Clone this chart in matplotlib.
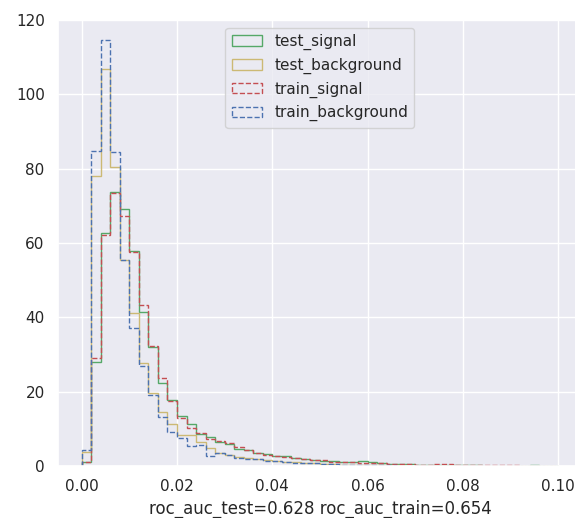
import numpy as np
import matplotlib
matplotlib.use("Agg")
import matplotlib.pyplot as plt
import seaborn as sns

sns.set_theme(style="darkgrid")

# 50 equal bins over [0, 0.1], heights are normalised densities
bin_edges = np.linspace(0.0, 0.1, 51)

test_signal = [1.0, 27.9, 62.6, 73.8, 69.1, 57.9, 41.3, 32.1, 22.4, 17.8,
               13.5, 11.3, 8.6, 7.9, 6.4, 6.0, 4.6, 4.2, 3.5, 3.2,
               2.8, 2.6, 2.2, 1.8, 1.6, 1.4, 1.3, 1.2, 1.0, 1.3,
               1.0, 0.8, 0.6, 0.6, 0.5, 0.4, 0.4, 0.3, 0.3, 0.2,
               0.2, 0.2, 0.1, 0.1, 0.1, 0.1, 0.0, 0.2, 0.0, 0.0]
test_background = [3.7, 78.0, 106.8, 80.5, 55.5, 41.1, 27.6, 19.6, 14.4, 11.3,
                   8.3, 8.3, 6.4, 4.8, 3.4, 3.0, 2.4, 2.1, 1.8, 1.6,
                   1.3, 1.1, 1.0, 0.9, 0.8, 0.6, 0.5, 0.4, 0.4, 0.3,
                   0.3, 0.2, 0.2, 0.2, 0.1, 0.1, 0.1, 0.1, 0.1, 0.1,
                   0.0, 0.0, 0.0, 0.0, 0.0, 0.0, 0.0, 0.0, 0.0, 0.0]
train_signal = [1.2, 29.1, 62.1, 73.5, 67.3, 57.5, 43.3, 32.3, 23.8, 17.6,
                12.8, 10.1, 9.0, 7.2, 6.6, 6.2, 5.2, 4.3, 3.6, 3.0,
                2.8, 2.4, 2.1, 1.9, 1.6, 1.5, 1.2, 1.1, 1.0, 0.9,
                0.8, 0.7, 0.6, 0.6, 0.5, 0.4, 0.4, 0.5, 0.5, 0.3,
                0.3, 0.2, 0.2, 0.2, 0.2, 0.2, 0.1, 0.0, 0.0, 0.0]
train_background = [4.2, 84.8, 114.6, 84.6, 55.4, 37.2, 27.0, 19.1, 13.3, 9.2,
                    7.5, 5.4, 5.6, 2.7, 3.4, 3.0, 2.2, 2.0, 1.8, 1.4,
                    1.3, 1.0, 0.9, 0.8, 0.7, 0.6, 0.5, 0.4, 0.4, 0.3,
                    0.3, 0.2, 0.2, 0.1, 0.1, 0.1, 0.1, 0.1, 0.0, 0.0,
                    0.0, 0.0, 0.0, 0.0, 0.0, 0.0, 0.0, 0.0, 0.0, 0.0]

roc_auc_test = 0.628
roc_auc_train = 0.654

pal = sns.color_palette("deep")
series = [
    ("test_signal", test_signal, pal[2], "-"),
    ("test_background", test_background, pal[8], "-"),
    ("train_signal", train_signal, pal[3], "--"),
    ("train_background", train_background, pal[0], "--"),
]

fig = plt.figure(figsize=(5.75, 5.18), dpi=100)
ax = fig.add_axes([0.1007, 0.1004, 0.9113, 0.861])

centers = 0.5 * (bin_edges[:-1] + bin_edges[1:])
for label, heights, color, ls in series:
    ax.hist(centers, bins=bin_edges, weights=heights, histtype="step",
            color=color, linestyle=ls, linewidth=1.0, label=label)

ax.set_xlim(-0.005, 0.105)
ax.set_ylim(0, 120)
ax.set_xlabel(f"roc_auc_test={roc_auc_test} roc_auc_train={roc_auc_train}")
ax.legend(loc="upper center")

fig.savefig("out.png", dpi=100)
